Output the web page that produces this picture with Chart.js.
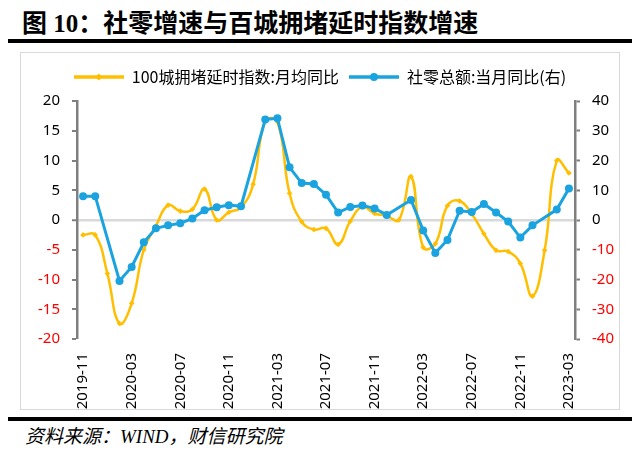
<!DOCTYPE html>
<html>
<head>
<meta charset="utf-8">
<script src="https://cdn.jsdelivr.net/npm/chart.js@4/dist/chart.umd.min.js"></script>
<style>
html,body{margin:0;padding:0;background:#fff;}
body{width:640px;height:457px;position:relative;overflow:hidden;}
#title{position:absolute;left:22px;top:7px;font:bold 25px "Liberation Serif","Noto Sans CJK SC";white-space:nowrap;line-height:34px;}
.rule{position:absolute;left:8px;width:624px;height:4px;background:#000;}
#box{position:absolute;left:20px;top:52px;width:600px;height:358px;border:1px solid #d9d9d9;box-sizing:border-box;}
#src{position:absolute;left:25px;top:424px;font:italic 19px "Liberation Serif","Noto Sans CJK SC";white-space:nowrap;line-height:26px;}
</style>
</head>
<body>
<div id="title">图 10：社零增速与百城拥堵延时指数增速</div>
<div class="rule" style="top:39px"></div>
<div id="box"><canvas id="chart" width="598" height="356"></canvas></div>
<div class="rule" style="top:417px"></div>
<div id="src">资料来源：WIND，财信研究院</div>

<script>
// months on the axis
const months = ['2019-11','2019-12',
  '2020-01','2020-02','2020-03','2020-04','2020-05','2020-06','2020-07','2020-08','2020-09','2020-10','2020-11','2020-12',
  '2021-01','2021-02','2021-03','2021-04','2021-05','2021-06','2021-07','2021-08','2021-09','2021-10','2021-11','2021-12',
  '2022-01','2022-02','2022-03','2022-04','2022-05','2022-06','2022-07','2022-08','2022-09','2022-10','2022-11','2022-12',
  '2023-01','2023-02','2023-03'];

// labels that are printed on the x axis
const shownTicks = ['2019-11','2020-03','2020-07','2020-11','2021-03','2021-07','2021-11','2022-03','2022-07','2022-11','2023-03'];

// 100城拥堵延时指数:月均同比 (left axis)
const congestion = [-2.5,-2.5,
  -9.0,-17.4,-14.0,-5.0,-1.0,2.5,1.5,1.8,5.2,0.0,1.3,2.1,
  6.0,16.6,16.5,4.5,-0.3,-1.6,-1.4,-4.1,-0.2,2.2,1.1,0.7,
  0.0,7.3,-4.6,-4.0,2.4,3.2,1.0,-2.3,-5.1,-5.3,-7.3,-12.8,
  -5.1,10.0,7.9];

// 社零总额:当月同比 (right axis), January merged into February
const retail = [8.0,8.0,
  null,-20.5,-15.8,-7.5,-2.8,-1.8,-1.1,0.5,3.3,4.3,5.0,4.6,
  null,33.8,34.2,17.7,12.4,12.1,8.5,2.5,4.4,4.9,3.9,1.7,
  null,6.7,-3.5,-11.1,-6.7,3.1,2.7,5.4,2.5,-0.5,-5.9,-1.8,
  null,3.5,10.6];

const yellow = '#ffbf00';
const blue = '#1aa3df';
const axisGray = '#7f7f7f';
const tickFont = {family:'"Noto Sans","Liberation Sans"', size:15};

// legend sample: a short line with the marker in the middle
function legendMark(color, round){
  const c = document.createElement('canvas');
  c.width = 50; c.height = 12;
  const g = c.getContext('2d');
  g.strokeStyle = color; g.lineWidth = 3.5;
  g.beginPath(); g.moveTo(0,6); g.lineTo(50,6); g.stroke();
  g.fillStyle = color;
  g.beginPath();
  if(round){ g.arc(25,6,4,0,Math.PI*2); }
  else { g.moveTo(25,2.5); g.lineTo(28.5,6); g.lineTo(25,9.5); g.lineTo(21.5,6); g.closePath(); }
  g.fill();
  return c;
}
const marks = [legendMark(yellow,false), legendMark(blue,true)];

const negRed = c => c.tick.value < 0 ? '#ff0000' : '#000000';

new Chart(document.getElementById('chart'), {
  type:'line',
  data:{
    labels:months,
    datasets:[
      {label:'100城拥堵延时指数:月均同比', data:congestion, yAxisID:'y', order:1,
       borderColor:yellow, backgroundColor:yellow, borderWidth:2.5, tension:0.45,
       pointStyle:'rectRot', pointRadius:2.8, pointBorderWidth:0},
      {label:'社零总额:当月同比(右)', data:retail, yAxisID:'y1', order:0, spanGaps:true,
       borderColor:blue, backgroundColor:blue, borderWidth:3, tension:0,
       pointStyle:'circle', pointRadius:4, pointBorderWidth:0}
    ]
  },
  options:{
    responsive:false, animation:false,
    layout:{padding:{top:6,left:0,right:0,bottom:0}},
    plugins:{
      tooltip:{enabled:false},
      legend:{
        position:'top',
        labels:{
          usePointStyle:true, pointStyleWidth:50, padding:10, color:'#000',
          font:{family:'"Noto Sans CJK SC"', size:16},
          generateLabels: chart => chart.data.datasets.map((ds,i)=>({
            text:ds.label, pointStyle:marks[i], fillStyle:ds.borderColor,
            strokeStyle:ds.borderColor, lineWidth:0, hidden:false, datasetIndex:i
          }))
        }
      }
    },
    scales:{
      x:{
        offset:true,
        grid:{display:false}, border:{display:false},
        ticks:{autoSkip:false, minRotation:90, maxRotation:90, padding:6, color:'#000', font:tickFont,
               callback:function(v){ const l=this.getLabelForValue(v); return shownTicks.includes(l)?l:null; }},
        afterFit:s=>{ s.height = 70; }
      },
      y:{
        position:'left', min:-20, max:20,
        ticks:{stepSize:5, padding:12, color:negRed, font:tickFont},
        grid:{drawOnChartArea:true, tickLength:5, tickWidth:2, tickColor:axisGray,
              color:c=>c.tick && c.tick.value===0 ? '#d9d9d9' : 'rgba(0,0,0,0)',
              lineWidth:c=>c.tick && c.tick.value===0 ? 2.5 : 0},
        border:{color:axisGray, width:2.5},
        afterFit:s=>{ s.width = 56; }
      },
      y1:{
        position:'right', min:-40, max:40,
        ticks:{stepSize:10, padding:12, color:negRed, font:tickFont},
        grid:{drawOnChartArea:false, tickLength:5, tickWidth:2, tickColor:axisGray},
        border:{color:axisGray, width:2.5},
        afterFit:s=>{ s.width = 44; }
      }
    }
  },
  plugins:[{
    id:'legendGap',
    beforeInit(chart){
      const fit = chart.legend.fit;
      chart.legend.fit = function(){ fit.call(this); this.height += 6; };
    }
  }]
});
</script>
</body>
</html>
